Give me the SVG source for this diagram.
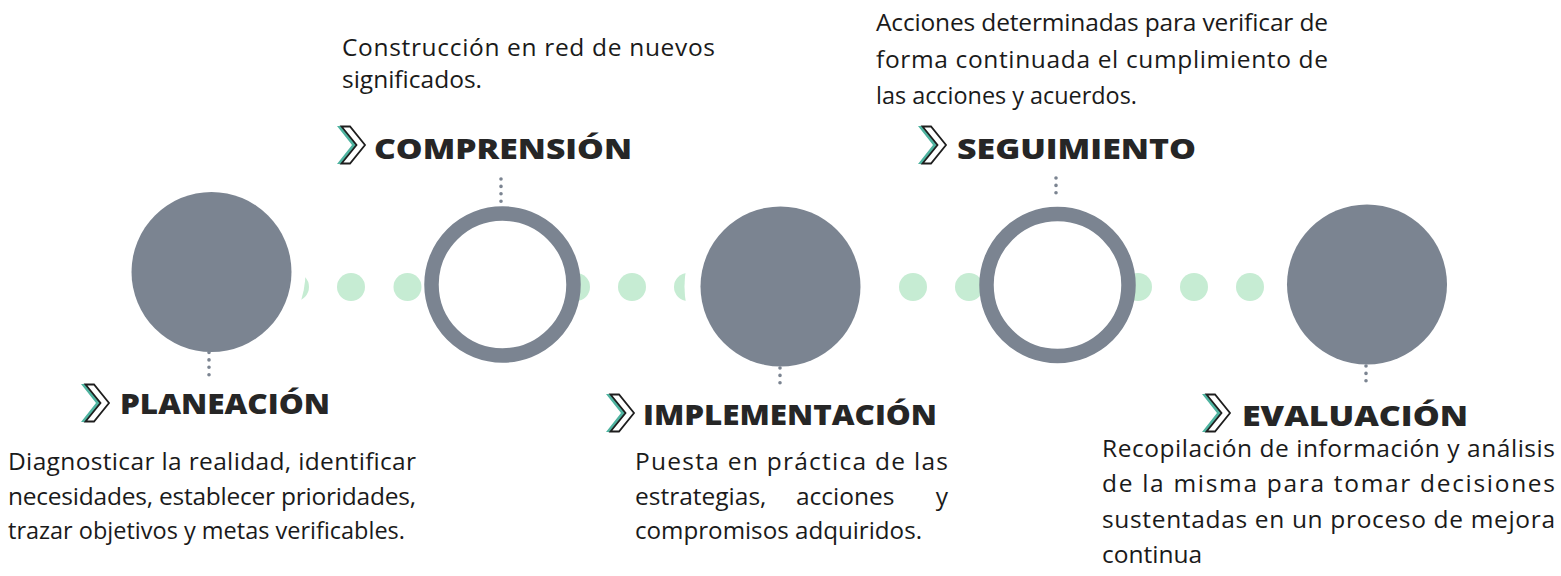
<svg xmlns="http://www.w3.org/2000/svg" width="1561" height="576" viewBox="0 0 1561 576">
<style>
.halo{fill:#ffffff}
.solid{fill:#7b8491}
.ring{fill:#ffffff;stroke:#7b8491;stroke-width:14.5}
.dot{fill:#c6ecd3}
.vdots{stroke:#7b8491;stroke-width:3.6;stroke-linecap:round;stroke-dasharray:0 7.4;fill:none}
.title{font-family:"Open Sans","Liberation Sans",sans-serif;font-weight:800;font-size:29px;fill:#262626}
.body{font-family:"Open Sans","Liberation Sans",sans-serif;font-weight:500;font-size:24.5px;fill:#1a1a1a}
.chev-t{fill:#4fb3a0}
.chev-o{fill:#ffffff;stroke:#1e1e1e;stroke-width:1.8;stroke-linejoin:miter}
</style>
<defs>
<g id="chevron">
<polygon class="chev-t" points="0,0 9,0 24,19 9,38 0,38 15,19"/>
<polygon class="chev-o" points="4.5,0.5 13,0.5 28,19 13,37.5 4.5,37.5 19.5,19"/>
</g>
</defs>
<rect width="1561" height="576" fill="#ffffff"/>
<g id="connectors">
<circle class="dot" cx="295" cy="287" r="14"/>
<circle class="dot" cx="351" cy="287" r="14"/>
<circle class="dot" cx="407.5" cy="287" r="14"/>
<circle class="dot" cx="463.5" cy="287" r="14"/>
<circle class="dot" cx="520" cy="287" r="14"/>
<circle class="dot" cx="576" cy="287" r="14"/>
<circle class="dot" cx="632" cy="287" r="14"/>
<circle class="dot" cx="688" cy="287" r="14"/>
<circle class="dot" cx="744.5" cy="287" r="14"/>
<circle class="dot" cx="800.5" cy="287" r="14"/>
<circle class="dot" cx="857" cy="287" r="14"/>
<circle class="dot" cx="913" cy="287" r="14"/>
<circle class="dot" cx="969" cy="287" r="14"/>
<circle class="dot" cx="1025.5" cy="287" r="14"/>
<circle class="dot" cx="1081.5" cy="287" r="14"/>
<circle class="dot" cx="1138" cy="287" r="14"/>
<circle class="dot" cx="1194" cy="287" r="14"/>
<circle class="dot" cx="1250" cy="287" r="14"/>
</g>
<g id="planeacion">
<circle class="halo" cx="211.5" cy="272" r="94"/>
<circle class="solid" cx="211.5" cy="272" r="80"/>
<line class="vdots" x1="209" y1="352.5" x2="209" y2="375"/>
<use href="#chevron" x="81" y="384"/>
<text class="title" x="120" y="414" textLength="210" lengthAdjust="spacingAndGlyphs">PLANEACIÓN</text>
<text class="body" x="8" y="470" textLength="408" lengthAdjust="spacing">Diagnosticar la realidad, identificar</text>
<text class="body" x="8" y="505" textLength="408" lengthAdjust="spacing">necesidades, establecer prioridades,</text>
<text class="body" x="8" y="539" textLength="397" lengthAdjust="spacingAndGlyphs">trazar objetivos y metas verificables.</text>
</g>
<g id="comprension">
<circle class="ring" cx="502.5" cy="284.5" r="71"/>
<line class="vdots" x1="501" y1="179" x2="501" y2="202"/>
<use href="#chevron" x="337" y="126"/>
<text class="title" x="374" y="159" textLength="258" lengthAdjust="spacingAndGlyphs">COMPRENSIÓN</text>
<text class="body" x="342" y="56" textLength="373" lengthAdjust="spacing">Construcción en red de nuevos</text>
<text class="body" x="342" y="88">significados.</text>
</g>
<g id="implementacion">
<circle class="halo" cx="780.5" cy="286.5" r="96"/>
<circle class="solid" cx="780.5" cy="286.5" r="80"/>
<line class="vdots" x1="780" y1="368" x2="780" y2="388"/>
<use href="#chevron" x="606" y="394"/>
<text class="title" x="643" y="425" textLength="294" lengthAdjust="spacingAndGlyphs">IMPLEMENTACIÓN</text>
<text class="body" x="635" y="470" textLength="313" lengthAdjust="spacing">Puesta en práctica de las</text>
<text class="body" x="635" y="505">estrategias,</text>
<text class="body" x="796" y="505">acciones</text>
<text class="body" x="948" y="505" text-anchor="end">y</text>
<text class="body" x="635" y="539" textLength="287" lengthAdjust="spacingAndGlyphs">compromisos adquiridos.</text>
</g>
<g id="seguimiento">
<circle class="ring" cx="1057.5" cy="285" r="71"/>
<line class="vdots" x1="1056" y1="178" x2="1056" y2="200"/>
<use href="#chevron" x="918" y="126"/>
<text class="title" x="957" y="159" textLength="239" lengthAdjust="spacingAndGlyphs">SEGUIMIENTO</text>
<text class="body" x="876" y="31" textLength="452" lengthAdjust="spacing">Acciones determinadas para verificar de</text>
<text class="body" x="876" y="68" textLength="452" lengthAdjust="spacing">forma continuada el cumplimiento de</text>
<text class="body" x="876" y="104" textLength="261" lengthAdjust="spacingAndGlyphs">las acciones y acuerdos.</text>
</g>
<g id="evaluacion">
<circle class="halo" cx="1367" cy="284.5" r="94"/>
<circle class="solid" cx="1367" cy="284.5" r="80"/>
<line class="vdots" x1="1366" y1="366" x2="1366" y2="381"/>
<use href="#chevron" x="1202" y="394"/>
<text class="title" x="1242" y="426" textLength="226" lengthAdjust="spacingAndGlyphs">EVALUACIÓN</text>
<text class="body" x="1102" y="457" textLength="453" lengthAdjust="spacing">Recopilación de información y análisis</text>
<text class="body" x="1102" y="492" textLength="453" lengthAdjust="spacing">de la misma para tomar decisiones</text>
<text class="body" x="1102" y="528" textLength="453" lengthAdjust="spacing">sustentadas en un proceso de mejora</text>
<text class="body" x="1102" y="563">continua</text>
</g>
</svg>
